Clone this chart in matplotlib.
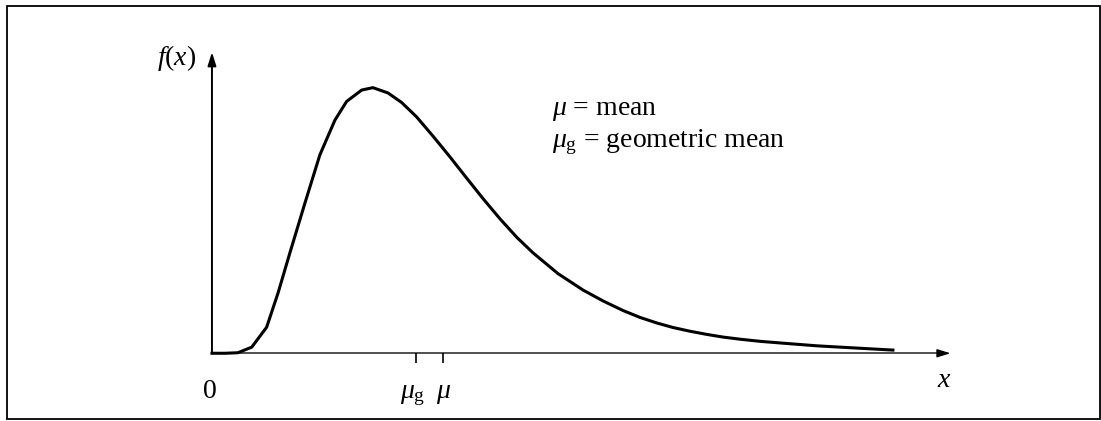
import matplotlib
matplotlib.use("Agg")
import matplotlib.pyplot as plt
from matplotlib.patches import Rectangle

plt.rcParams["font.family"] = ["Liberation Serif", "DejaVu Serif"]
plt.rcParams["mathtext.fontset"] = "custom"
plt.rcParams["mathtext.rm"] = "Liberation Serif"
plt.rcParams["mathtext.it"] = "Liberation Serif:italic"

# Log-normal density curve (x in units of the geometric mean, f scaled to peak = 1)
x_vals = [0.000, 0.064, 0.127, 0.195, 0.268, 0.324, 0.382, 0.456, 0.529, 0.603,
          0.660, 0.734, 0.789, 0.863, 0.930, 1.003, 1.083, 1.167, 1.250, 1.328,
          1.412, 1.495, 1.574, 1.696, 1.819, 1.917, 2.015, 2.098, 2.181, 2.260,
          2.343, 2.426, 2.505, 2.588, 2.686, 2.799, 2.966, 3.127, 3.338]
f_vals = [0.000, 0.000, 0.002, 0.023, 0.098, 0.227, 0.378, 0.566, 0.747, 0.878,
          0.948, 0.991, 1.000, 0.980, 0.944, 0.890, 0.818, 0.739, 0.658, 0.583,
          0.506, 0.436, 0.378, 0.300, 0.238, 0.197, 0.161, 0.135, 0.114, 0.097,
          0.083, 0.071, 0.061, 0.053, 0.045, 0.038, 0.028, 0.021, 0.012]

mu_g = 1.0     # geometric mean
mu = 1.132     # arithmetic mean
tick_positions = [mu_g, mu]
tick_labels = [r"$\mu_{\mathrm{g}}$", r"$\mu$"]
legend_lines = [r"$\mu$ = mean", r"$\mu_{\mathrm{g}}$ = geometric mean"]

fig = plt.figure(figsize=(11.01, 4.21), dpi=100)
ax = fig.add_axes([0, 0, 1, 1])
ax.set_xlim(-1.039, 4.358)
ax.set_ylim(-0.255, 1.330)
ax.axis("off")

# frame around the whole figure
fig.patches.append(Rectangle((7 / 1101, 2 / 421), 1093 / 1101, 413 / 421,
                             transform=fig.transFigure, fill=False,
                             edgecolor="black", linewidth=1.3))

# axes: grey x line, black y line, black arrow heads
x_end, y_end = 3.62, 1.134
ax.plot([0, x_end - 0.02], [0, 0], color="#505050", lw=1.4, solid_capstyle="butt")
ax.annotate("", xy=(x_end, 0), xytext=(x_end - 0.06, 0),
            arrowprops=dict(arrowstyle="-|>,head_length=0.8,head_width=0.25",
                            color="black", lw=1.0, shrinkA=0, shrinkB=0))
ax.annotate("", xy=(0, y_end), xytext=(0, 0),
            arrowprops=dict(arrowstyle="-|>,head_length=0.8,head_width=0.25",
                            color="black", lw=1.4, shrinkA=0, shrinkB=0))

ax.plot(x_vals, f_vals, color="black", lw=2.2, solid_joinstyle="round")

ax.vlines(tick_positions, -0.036, 0, color="black", lw=1.2)
ax.text(mu_g - 0.015, -0.168, tick_labels[0], fontsize=20, ha="center", va="baseline")
ax.text(mu + 0.005, -0.168, tick_labels[1], fontsize=20, ha="center", va="baseline")

ax.text(-0.01, -0.168, "0", fontsize=20, ha="center", va="baseline")
ax.text(3.588, -0.126, r"$x$", fontsize=20, ha="center", va="baseline")
ax.text(-0.172, 1.085, r"$f(x)$", fontsize=20, ha="center", va="baseline")

ax.text(1.667, 0.897, legend_lines[0], fontsize=20, ha="left", va="baseline")
ax.text(1.667, 0.777, legend_lines[1], fontsize=20, ha="left", va="baseline")

fig.savefig("out.png", dpi=100)
